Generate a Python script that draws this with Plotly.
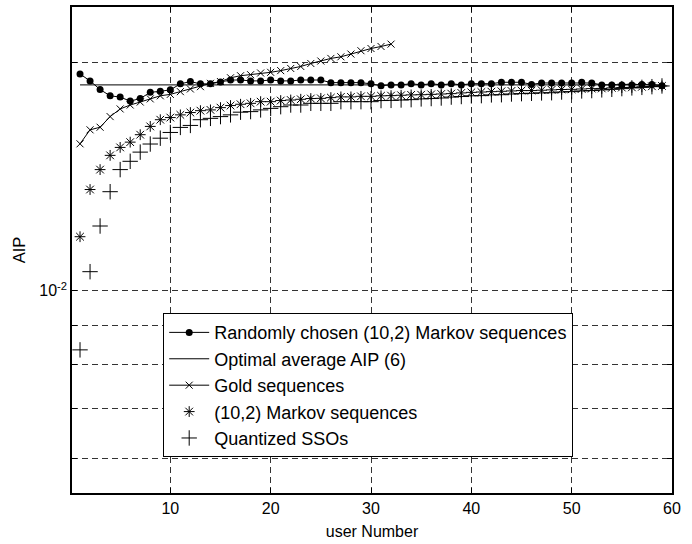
import plotly.graph_objects as go

# ---- data ----
users = list(range(1, 60))
gold_users = list(range(1, 33))

random_aip = [0.01934, 0.01894, 0.01845, 0.01810, 0.01803, 0.01781, 0.01795, 0.01829, 0.01835, 0.01843,
              0.01877, 0.01890, 0.01877, 0.01877, 0.01888, 0.01899, 0.01899, 0.01894, 0.01894, 0.01899,
              0.01894, 0.01894, 0.01899, 0.01899, 0.01899, 0.01884, 0.01884, 0.01884, 0.01884, 0.01877,
              0.01866, 0.01871, 0.01871, 0.01878, 0.01871, 0.01878, 0.01871, 0.01878, 0.01871, 0.01878,
              0.01878, 0.01878, 0.01886, 0.01886, 0.01886, 0.01874, 0.01882, 0.01882, 0.01882, 0.01882,
              0.01886, 0.01882, 0.01871, 0.01871, 0.01871, 0.01871, 0.01874, 0.01874, 0.01866]

optimal_aip = 0.01871

gold_aip = [0.01564, 0.01632, 0.01645, 0.01699, 0.01739, 0.01760, 0.01776, 0.01793, 0.01810, 0.01818,
            0.01833, 0.01848, 0.01861, 0.01880, 0.01890, 0.01912, 0.01924, 0.01930, 0.01940, 0.01944,
            0.01954, 0.01967, 0.01979, 0.01997, 0.02012, 0.02028, 0.02038, 0.02055, 0.02076, 0.02090,
            0.02103, 0.02118]

markov_aip = [0.01179, 0.01361, 0.01446, 0.01510, 0.01547, 0.01572, 0.01608, 0.01649, 0.01683, 0.01694,
              0.01708, 0.01720, 0.01730, 0.01734, 0.01746, 0.01757, 0.01764, 0.01769, 0.01778, 0.01778,
              0.01784, 0.01787, 0.01791, 0.01795, 0.01796, 0.01800, 0.01804, 0.01804, 0.01807, 0.01807,
              0.01810, 0.01811, 0.01813, 0.01815, 0.01816, 0.01818, 0.01820, 0.01822, 0.01826, 0.01829,
              0.01831, 0.01833, 0.01835, 0.01837, 0.01839, 0.01839, 0.01841, 0.01843, 0.01845, 0.01846,
              0.01848, 0.01850, 0.01851, 0.01854, 0.01856, 0.01857, 0.01860, 0.01863, 0.01865]

sso_aip = [0.008356, 0.01060, 0.01218, 0.01352, 0.01446, 0.01483, 0.01525, 0.01563, 0.01591, 0.01619,
           0.01644, 0.01654, 0.01683, 0.01690, 0.01699, 0.01708, 0.01722, 0.01725, 0.01734, 0.01742,
           0.01751, 0.01760, 0.01760, 0.01769, 0.01769, 0.01769, 0.01778, 0.01778, 0.01778, 0.01778,
           0.01784, 0.01785, 0.01787, 0.01789, 0.01793, 0.01795, 0.01798, 0.01803, 0.01806, 0.01810,
           0.01811, 0.01815, 0.01816, 0.01820, 0.01822, 0.01824, 0.01826, 0.01827, 0.01831, 0.01833,
           0.01837, 0.01839, 0.01843, 0.01846, 0.01850, 0.01854, 0.01857, 0.01861, 0.01865]

x_ticks = [10, 20, 30, 40, 50, 60]
y_ticks = [0.006, 0.007, 0.008, 0.009, 0.01, 0.02]
y_tick_text = ["", "", "", "", "10<sup>-2</sup>", ""]

names = ["Randomly chosen (10,2) Markov sequences", "Optimal average AIP (6)", "Gold sequences",
         "(10,2) Markov sequences", "Quantized SSOs"]

FONT = "Liberation Sans, Arial, Helvetica, sans-serif"

fig = go.Figure()
fig.add_trace(go.Scatter(x=users, y=random_aip, mode="lines+markers", name=names[0],
                         line=dict(color="black", width=1),
                         marker=dict(symbol="circle", size=7, color="black")))
fig.add_trace(go.Scatter(x=[users[0], users[-1]], y=[optimal_aip, optimal_aip], mode="lines", name=names[1],
                         line=dict(color="black", width=1)))
fig.add_trace(go.Scatter(x=gold_users, y=gold_aip, mode="lines+markers", name=names[2],
                         line=dict(color="black", width=1),
                         marker=dict(symbol="x-thin-open", size=7, color="black", line=dict(width=1, color="black"))))
fig.add_trace(go.Scatter(x=users, y=markov_aip, mode="markers", name=names[3],
                         marker=dict(symbol="asterisk-open", size=9, color="black", line=dict(width=1, color="black"))))
fig.add_trace(go.Scatter(x=users, y=sso_aip, mode="markers", name=names[4],
                         marker=dict(symbol="cross-thin-open", size=11, color="black", line=dict(width=1, color="black"))))

axis_common = dict(showline=True, linecolor="black", linewidth=1.5, mirror="ticks",
                   ticks="inside", ticklen=5, tickcolor="black", tickwidth=1,
                   showgrid=True, gridcolor="#333333", gridwidth=1, griddash="6px,4px",
                   zeroline=False, tickfont=dict(family=FONT, size=16, color="black"))

fig.update_xaxes(range=[0.2, 60], tickvals=x_ticks,
                 title=dict(text="user Number", font=dict(family=FONT, size=16, color="black"), standoff=10),
                 **axis_common)
fig.update_yaxes(type="log", range=[-2.2671, -1.625], tickvals=y_ticks, ticktext=y_tick_text,
                 title=dict(text="AIP", font=dict(family=FONT, size=16.5, color="black"), standoff=10),
                 **axis_common)

fig.update_layout(
    width=692, height=544,
    margin=dict(l=72, r=20, t=5, b=51),
    paper_bgcolor="white", plot_bgcolor="white",
    font=dict(family=FONT, size=16, color="black"),
    showlegend=True,
    legend=dict(x=0.152, y=0.37, xanchor="left", yanchor="top",
                bgcolor="white", bordercolor="black", borderwidth=1,
                font=dict(family=FONT, size=18, color="black"),
                itemwidth=40, tracegroupgap=0),
)

fig.write_html("out.html", config={"displayModeBar": False},
               post_script="document.body.style.margin='0px';")
